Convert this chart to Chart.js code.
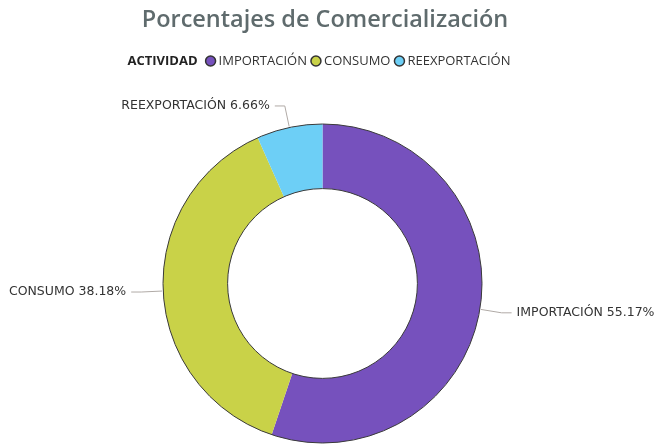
<!DOCTYPE html>
<html>
<head>
<meta charset="utf-8">
<script src="https://cdn.jsdelivr.net/npm/chart.js@4.4.3/dist/chart.umd.min.js"></script>
<style>
  html, body { margin: 0; padding: 0; background: #fff; }
  #wrap { width: 655px; height: 446px; position: relative; }
</style>
</head>
<body>
<div id="wrap"><canvas id="chart"></canvas></div>
<script>
// data
const categories = ["IMPORTACIÓN", "CONSUMO", "REEXPORTACIÓN"];
const percentages = [55.17, 38.18, 6.66];
const sliceColors = ["#7651bd", "#c9d248", "#6dcff6"];
const chartTitle = "Porcentajes de Comercialización";
const legendTitle = "ACTIVIDAD";

// title + custom legend row at the top
const headerPlugin = {
  id: "header",
  afterDraw(chart) {
    const ctx = chart.ctx;
    ctx.save();
    ctx.textBaseline = "middle";
    ctx.fillStyle = "#5f6b6d";
    ctx.font = "600 23.5px 'Open Sans'";
    ctx.textAlign = "center";
    ctx.fillText(chartTitle, 325, 20);

    // legend row, centered
    ctx.textAlign = "left";
    const boldFont = "bold 13px 'Open Sans'";
    const font = "13px 'Open Sans'";
    ctx.font = boldFont;
    let total = ctx.measureText(legendTitle).width + 8;
    ctx.font = font;
    categories.forEach(c => { total += 13 + ctx.measureText(c).width + 4; });
    let x = 321 - total / 2;
    const y = 61;
    ctx.fillStyle = "#222";
    ctx.font = boldFont;
    ctx.fillText(legendTitle, x, y);
    x += ctx.measureText(legendTitle).width + 8;
    ctx.font = font;
    categories.forEach((c, i) => {
      ctx.beginPath();
      ctx.arc(x + 5, y, 5, 0, Math.PI * 2);
      ctx.fillStyle = sliceColors[i];
      ctx.fill();
      ctx.lineWidth = 1.5;
      ctx.strokeStyle = "#333";
      ctx.stroke();
      x += 13;
      ctx.fillStyle = "#333";
      ctx.fillText(c, x, y);
      x += ctx.measureText(c).width + 4;
    });
    ctx.restore();
  }
};

// dark outline on outer and inner edges, plus leader-line labels
const ringPlugin = {
  id: "ring",
  afterDatasetsDraw(chart) {
    const ctx = chart.ctx;
    const arcs = chart.getDatasetMeta(0).data;
    if (!arcs.length) return;
    const a0 = arcs[0];
    ctx.save();
    ctx.strokeStyle = "#3a3a3a";
    ctx.lineWidth = 1;
    ctx.beginPath();
    ctx.arc(a0.x, a0.y, a0.outerRadius, 0, Math.PI * 2);
    ctx.stroke();
    ctx.beginPath();
    ctx.arc(a0.x, a0.y, a0.innerRadius, 0, Math.PI * 2);
    ctx.stroke();

    ctx.font = "12.5px 'DejaVu Sans'";
    ctx.textBaseline = "middle";
    arcs.forEach((arc, i) => {
      const mid = (arc.startAngle + arc.endAngle) / 2;
      const r = arc.outerRadius;
      const cx = Math.cos(mid), cy = Math.sin(mid);
      const px = arc.x + cx * (r + 1), py = arc.y + cy * (r + 1);
      const ex = arc.x + cx * (r + 22), ey = arc.y + cy * (r + 22);
      const right = cx >= 0;
      const hx = ex + (right ? 10 : -10);
      ctx.strokeStyle = "#b0aaa6";
      ctx.lineWidth = 1;
      ctx.beginPath();
      ctx.moveTo(px, py);
      ctx.lineTo(ex, ey);
      ctx.lineTo(hx, ey);
      ctx.stroke();
      ctx.fillStyle = "#333";
      ctx.textAlign = right ? "left" : "right";
      const label = categories[i] + " " + percentages[i].toFixed(2) + "%";
      ctx.fillText(label, hx + (right ? 5 : -5), ey);
    });
    ctx.restore();
  }
};

new Chart(document.getElementById("chart"), {
  type: "doughnut",
  data: {
    labels: categories,
    datasets: [{
      data: percentages,
      backgroundColor: sliceColors,
      borderWidth: 0,
    }],
  },
  options: {
    responsive: true,
    maintainAspectRatio: false,
    animation: false,
    cutout: "59.5%",
    layout: { padding: { top: 124, bottom: 3, left: 0, right: 10 } },
    plugins: {
      legend: { display: false },
      title: { display: false },
      tooltip: { enabled: false },
    },
  },
  plugins: [ringPlugin, headerPlugin],
});
</script>
</body>
</html>
